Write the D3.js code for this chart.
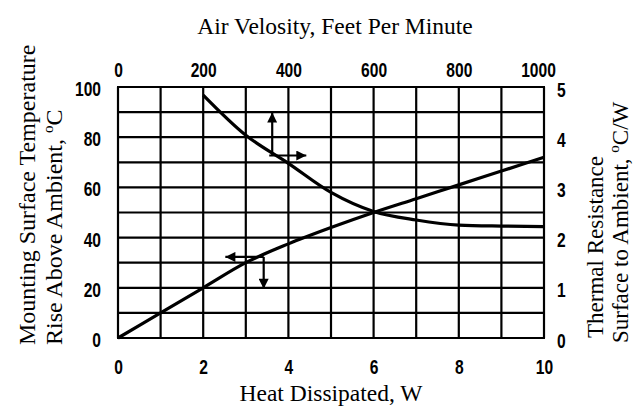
<!DOCTYPE html>
<html>
<head>
<meta charset="utf-8">
<script src="https://cdn.jsdelivr.net/npm/d3@7"></script>
<style>
  html, body { margin: 0; padding: 0; background: #fff; }
  svg { display: block; }
  .tick text { font-family: "Liberation Sans", Arial, sans-serif; font-weight: bold; font-size: 20px; fill: #000; }
  .lbl { font-family: "Liberation Serif", "DejaVu Serif", serif; fill: #000; }
</style>
</head>
<body>
<svg id="chart" width="640" height="406"></svg>
<script>
// ---- Data ----
const heatTicks = [0, 2, 4, 6, 8, 10];               // bottom axis, W
const velocityTicks = [0, 200, 400, 600, 800, 1000];  // top axis, ft/min
const tempTicks = [0, 20, 40, 60, 80, 100];           // left axis, °C
const resistTicks = [0, 1, 2, 3, 4, 5];               // right axis, °C/W

// Mounting surface temperature rise vs heat dissipated
const heatW = [0, 1, 2, 3, 4, 5, 6, 7, 8, 9, 10];
const tempRise = [0, 10, 20, 30, 37.5, 44, 50, 55.5, 61, 66.5, 72];

// Thermal resistance vs air velocity
const velocity = [200, 300, 400, 500, 600, 700, 800, 900, 1000];
const resistance = [4.84, 4.04, 3.48, 2.9, 2.52, 2.35, 2.25, 2.23, 2.22];

// Arrow annotations (in heat W / temperature °C units)
const arrowsUpper = [
  { from: [3.62, 72.7], to: [3.62, 89.8] },
  { from: [3.55, 72.7], to: [4.42, 72.7] }
];
const arrowsLower = [
  { from: [3.42, 32.3], to: [2.52, 32.3] },
  { from: [3.42, 32.3], to: [3.42, 19.6] }
];

// ---- Layout ----
const L = 118, R = 544, T = 87, B = 338;
const SX = 0.78; // condensed digits
const svg = d3.select("#chart");

const x = d3.scaleLinear().domain([0, 10]).range([L, R]);
const xTop = d3.scaleLinear().domain([0, 1000]).range([L, R]);
const yL = d3.scaleLinear().domain([0, 100]).range([B, T]);
const yR = d3.scaleLinear().domain([0, 5]).range([B, T]);

// Grid
const grid = svg.append("g").attr("stroke", "#000").attr("stroke-width", 2.2);
grid.selectAll("line.v").data(d3.range(0, 11)).join("line")
  .attr("x1", d => x(d)).attr("x2", d => x(d)).attr("y1", T).attr("y2", B);
grid.selectAll("line.h").data(d3.range(0, 101, 10)).join("line")
  .attr("y1", d => yL(d)).attr("y2", d => yL(d)).attr("x1", L - 1).attr("x2", R + 1);

// Axes
function clean(g) { g.select(".domain").remove(); g.selectAll(".tick line").remove(); }
function condense(g) {
  g.selectAll(".tick text").each(function () {
    const t = d3.select(this);
    const xx = +t.attr("x") || 0;
    t.attr("x", xx / SX).attr("transform", `scale(${SX},1)`);
  });
}
svg.append("g").attr("transform", `translate(0,${B})`)
  .call(d3.axisBottom(x).tickValues(heatTicks).tickSize(0).tickPadding(22).tickFormat(d3.format("d")))
  .call(clean).call(condense);
const topAx = svg.append("g").attr("transform", `translate(0,${T})`)
  .call(d3.axisTop(xTop).tickValues(velocityTicks).tickSize(0).tickPadding(10).tickFormat(d3.format("d")))
  .call(clean).call(condense);
topAx.selectAll(".tick text").filter(d => d === 1000).attr("dx", -6 / SX);
svg.append("g").attr("transform", `translate(${L},0)`)
  .call(d3.axisLeft(yL).tickValues(tempTicks).tickSize(0).tickPadding(17).tickFormat(d3.format("d")))
  .call(clean).call(condense)
  .selectAll("text").attr("dy", "0.42em");
svg.append("g").attr("transform", `translate(${R},0)`)
  .call(d3.axisRight(yR).tickValues(resistTicks).tickSize(0).tickPadding(13).tickFormat(d3.format("d")))
  .call(clean).call(condense)
  .selectAll("text").attr("dy", "0.45em");

// Curves
const lineTemp = d3.line().x(d => x(d[0])).y(d => yL(d[1])).curve(d3.curveMonotoneX);
const lineRes = d3.line().x(d => xTop(d[0])).y(d => yR(d[1])).curve(d3.curveMonotoneX);
svg.append("path").datum(heatW.map((h, i) => [h, tempRise[i]]))
  .attr("d", lineTemp).attr("fill", "none").attr("stroke", "#000").attr("stroke-width", 3.2);
svg.append("path").datum(velocity.map((v, i) => [v, resistance[i]]))
  .attr("d", lineRes).attr("fill", "none").attr("stroke", "#000").attr("stroke-width", 3.2);

// Arrows
svg.append("defs").append("marker")
  .attr("id", "ah").attr("viewBox", "0 0 10 10").attr("refX", 10).attr("refY", 5)
  .attr("markerWidth", 11).attr("markerHeight", 10).attr("markerUnits", "userSpaceOnUse")
  .attr("orient", "auto")
  .append("path").attr("d", "M0,0 L10,5 L0,10 Z").attr("fill", "#000");
svg.append("g").selectAll("line").data(arrowsUpper.concat(arrowsLower)).join("line")
  .attr("x1", d => x(d.from[0])).attr("y1", d => yL(d.from[1]))
  .attr("x2", d => x(d.to[0])).attr("y2", d => yL(d.to[1]))
  .attr("stroke", "#000").attr("stroke-width", 2.2).attr("marker-end", "url(#ah)");

// Titles
svg.append("text").attr("class", "lbl").attr("x", (L + R) / 2 + 4).attr("y", 34)
  .attr("text-anchor", "middle").attr("font-size", 23.5).text("Air Velosity, Feet Per Minute");
svg.append("text").attr("class", "lbl").attr("x", (L + R) / 2).attr("y", 401)
  .attr("text-anchor", "middle").attr("font-size", 23.5).text("Heat Dissipated, W");

// Left axis title
const lt = svg.append("text").attr("class", "lbl").attr("font-size", 24)
  .attr("transform", "translate(35,345) rotate(-90)");
lt.append("tspan").attr("x", 0).attr("y", 0).text("Mounting Surface Temperature");
const lt2 = svg.append("text").attr("class", "lbl").attr("font-size", 24)
  .attr("transform", "translate(62,345) rotate(-90)");
lt2.append("tspan").text("Rise Above Ambient, ");
lt2.append("tspan").attr("font-size", 15).attr("dy", -9).text("o");
lt2.append("tspan").attr("dy", 9).text("C");

// Right axis title
const rt = svg.append("text").attr("class", "lbl").attr("font-size", 23)
  .attr("transform", "translate(603,338) rotate(-90)");
rt.append("tspan").text("Thermal Resistance");
const rt2 = svg.append("text").attr("class", "lbl").attr("font-size", 23)
  .attr("transform", "translate(628,343) rotate(-90)");
rt2.append("tspan").text("Surface to Ambient, ");
rt2.append("tspan").attr("font-size", 15).attr("dy", -9).text("o");
rt2.append("tspan").attr("dy", 9).text("C/W");
</script>
</body>
</html>
